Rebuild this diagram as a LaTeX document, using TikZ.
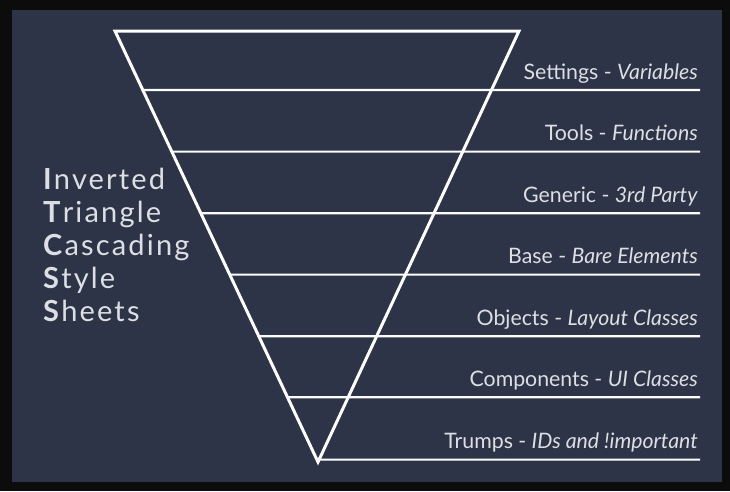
\documentclass[tikz,border=0pt]{standalone}
\usepackage{fontspec}
\setmainfont{Lato}
\definecolor{bgpanel}{HTML}{2E3447}
\definecolor{frame}{HTML}{0C0C0C}
\definecolor{txt}{HTML}{DCDFE4}
\begin{document}
\begin{tikzpicture}[x=1pt,y=-1pt,
  layerlabel/.style={anchor=base east, inner sep=0pt, text=txt, font=\fontsize{21.3}{24}\selectfont},
  sidetext/.style={anchor=base west, inner sep=0pt, text=txt, font=\fontsize{29}{32}\selectfont\addfontfeatures{LetterSpace=7.5}},
  tri/.style={draw=white, line width=3pt, line join=miter},
  sep/.style={draw=white!92!txt, line width=2.2pt}]
\useasboundingbox (0,0) rectangle (730,491);
\fill[frame] (0,0) rectangle (730,491);
\fill[bgpanel] (12,10) rectangle (722,482);
% triangle
\coordinate (tl) at (115,31);
\coordinate (tr) at (519,31);
\coordinate (bt) at (318,462);
\draw[tri] (tl) -- (tr) -- (bt) -- cycle;
% separator lines
\foreach \yy [count=\i] in {90,151.6,213.2,274.6,336.2,397.2,459.6}{
  \path (tl) -- (bt) coordinate[pos={(\yy-31)/431}] (l\i);
  \coordinate (r\i) at (700,\yy);
  \draw[sep] (l\i) -- (r\i);
}
% labels
\node[layerlabel] (s1) at (698,79) {Settings - \textit{Variables}};
\node[layerlabel] (s2) at (698,140.6) {Tools - \textit{Functions}};
\node[layerlabel] (s3) at (698,202.2) {Generic - \textit{3rd Party}};
\node[layerlabel] (s4) at (698,263.8) {Base - \textit{Bare Elements}};
\node[layerlabel] (s5) at (698,325.4) {Objects - \textit{Layout Classes}};
\node[layerlabel] (s6) at (698,386.6) {Components - \textit{UI Classes}};
\node[layerlabel] (s7) at (698,448.6) {Trumps - \textit{IDs and !important}};
% side text
\node[sidetext] (t1) at (43,189) {\textbf{I}nverted};
\node[sidetext] (t2) at (43,222) {\textbf{T}riangle};
\node[sidetext] (t3) at (43,255) {\textbf{C}ascading};
\node[sidetext] (t4) at (43,288) {\textbf{S}tyle};
\node[sidetext] (t5) at (43,321) {\textbf{S}heets};
\end{tikzpicture}
\end{document}
